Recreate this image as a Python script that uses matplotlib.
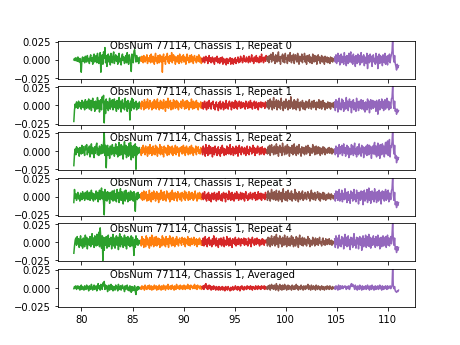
import matplotlib
matplotlib.use("Agg")
import matplotlib.pyplot as plt
import matplotlib.transforms as mtransforms
import numpy as np

obsnum = 77114
chassis = 1
panel_names = ["Repeat 0", "Repeat 1", "Repeat 2", "Repeat 3", "Repeat 4", "Averaged"]

# frequency range of each band (GHz) and the colour it is drawn in
band_lo = [79.25, 85.8, 91.8, 98.15, 104.8]
band_hi = [85.8, 91.8, 98.15, 104.8, 111.05]
band_colors = ["tab:green", "tab:orange", "tab:red", "tab:brown", "tab:purple"]

# baseline-subtracted spectra, units of 1e-3, one row per band
repeat0 = [
    [0, 2, -1, 3, 1, -2, 4, 0, -3, 2, -5, -17, 1, 4, -2, 3, -4, 5, 1, -3,
     6, -1, 2, -5, 4, 7, -2, 3, -6, 5, 8, -3, 2, 6, -4, 9, 1, -5, 4, 10,
     -17, 3, 7, -6, 11, 2, 17, -4, 6, -9, 4, 8, -3, 5, -7, 9, 2, -4, 6, 11,
     -5, 3, 7, -2, 5, -6, 4, 9, -3, 2, -7, 5, 8, -1, 4, -5, 3, 6, -4, 10,
     2, -6, 7, 3, -5, -16, 8, 2, -4, 12, 14, 5, -3, 6, -2, 3, -5, 2, 4, -1],
    [3, -2, 5, 0, -4, 6, 2, -3, 4, -1, 7, -5, 3, 1, -2, 6, -4, 8, 0, -3,
     5, 2, -6, 4, 9, -2, 3, -5, 6, 1, -4, 7, 2, -3, 5, -17, 4, 8, -2, 3,
     -6, 5, 1, 9, -3, 4, -5, 6, 2, -2, 10, -4, 3, 7, -1, 5, -6, 2, 4, -3,
     6, 1, -5, 8, -2, 3, -4, 5, 0, 7, -3, 4, 2, -6, 5, 8, -1, 3, -4, 6,
     1, -3, 7, -2, 4, -5, 3, 6, -1, 2, -4, 5, 3, -2, 7, -3, 4, 1, -5, 2],
    [2, -3, 1, 4, -4, 2, 5, -1, 3, -5, 1, 6, -2, 3, -4, 0, 4, -3, 2, -6,
     3, 1, -2, 5, -4, 2, -1, -5, 3, -3, 0, 4, -6, 2, -2, -4, 1, -7, 2, -3,
     -5, 1, -2, 3, -6, -1, 2, -4, -6, 1, -3, 3, -5, 0, -2, 4, -4, 1, -3, 5,
     -1, 2, -4, 3, 6, -2, 1, -3, 4, -1, 2, -4, 5, 0, -3, 3, 7, -2, 2, -5,
     4, 1, -2, 6, -3, 3, 0, -4, 5, 2, -3, 8, -1, 3, -4, 4, 1, -2, 6, 1],
    [3, -2, 5, -4, 6, 1, 8, -3, 4, 10, -1, 5, -5, 7, 2, -3, 6, 11, -2, 4,
     -6, 5, 2, 8, -3, 6, -4, 9, 1, 3, -5, 7, 4, -2, 10, 2, -4, 6, -1, 8,
     -5, 3, 7, 0, -3, 9, 2, -6, 5, 3, -2, 8, -4, 4, 1, 9, -3, 5, -6, 6,
     2, -2, 7, -4, 4, 1, -5, 8, 3, -3, 6, -2, 5, -6, 3, 7, -1, 4, -5, 2,
     6, -3, 4, 0, -6, 5, 2, -3, 4, -4, 3, 1, -5, 4, -2, 3, -3, 2, 0, -1],
    [4, -3, 7, -5, 2, 9, -2, 6, -7, 3, 8, -4, 5, 1, -6, 10, -2, 4, -8, 6,
     2, -5, 9, -3, 7, 11, -4, 5, -6, 8, -2, 4, -9, 6, 1, -5, 8, -3, 6, -7,
     3, 10, -4, 5, -2, 7, -8, 4, 2, -5, 9, -12, 3, 6, -4, 8, -2, 5, -9, 4,
     7, -3, 2, -6, 9, -4, 5, -12, 3, 8, -5, 6, -3, 4, -8, 7, 2, -4, 9, -6,
     3, 5, -7, 6, -2, 8, -4, 3, 7, 12, 30, 4, -3, 6, -5, -9, -14, -6, -11, -8],
]
repeat1 = [
    [-22, -6, 2, -3, 5, 1, -4, 6, 3, -2, 4, -5, 7, 0, -3, 5, -6, 8, 2, -4,
     6, -2, 9, -5, 3, 7, -7, 4, 10, -3, 5, -8, 6, 2, -5, 11, -4, 7, -9, 3,
     8, -6, 12, 4, 14, -24, 6, -11, 9, -4, 5, -7, 3, 10, -5, 6, -2, 8, -6, 4,
     9, -3, 5, -8, 7, 2, -5, 11, -3, 6, -9, 4, 8, -4, 3, -6, 10, -2, 5, -8,
     7, -4, 3, -20, 6, -7, 10, -3, 8, -5, 4, -2, 6, -6, 3, 1, -4, 5, -1, 2],
    [3, -5, 6, -1, 4, -6, 8, 2, -4, 5, -3, 9, 0, -5, 4, 7, -2, 3, -6, 5,
     1, -4, 8, -2, 6, -5, 3, 9, -3, 4, -6, 2, 7, -4, 5, 0, -5, 8, -2, 3,
     -8, 6, 2, -3, 10, -4, 5, -1, 7, -6, 3, 4, -5, 8, -1, 6, -4, 2, 7, -3,
     5, -6, 3, 1, -2, 6, -4, 4, 8, -1, 3, -5, 6, 2, -4, 7, -2, 5, -6, 3,
     4, -3, 9, 0, -5, 6, 2, -4, 5, -2, 7, -3, 4, -6, 3, 1, -2, 5, -4, 2],
    [-2, 4, -5, 1, 6, -3, 3, -6, 5, 0, -4, 7, -1, 3, -5, 4, 2, 6, -4, 1,
     -6, 3, 5, -2, 1, -7, 4, -3, 6, -5, 2, -2, 5, -6, 3, 0, -4, 7, -3, 2,
     -5, 4, 6, -1, 3, -6, 5, -2, 4, -4, 1, 7, -3, 5, -5, 2, -1, 6, 0, -4,
     5, -3, 2, 4, -2, 3, -5, 6, -1, 2, -4, 5, 1, -3, 7, -2, 4, -5, 3, 0,
     6, -4, 2, 5, -3, 3, -6, 4, 1, -2, 5, -3, 2, 4, -1, 3, -4, 5, 2, -1],
    [4, -3, 7, -5, 2, 9, -2, 6, -6, 3, 11, -4, 5, -1, 8, -6, 3, 7, -3, 5,
     -5, 10, 0, 4, -7, 6, 2, -4, 9, -2, 5, -6, 7, 1, -4, 12, -2, 5, -5, 3,
     8, -4, 6, -6, 2, 9, -3, 4, -7, 5, 3, -2, 7, -5, 4, 1, -6, 6, -3, 2,
     5, -4, 8, -1, 3, -5, 6, 2, -3, 7, -2, 4, -6, 5, 1, -3, 8, -4, 3, 6,
     -5, 2, 7, -2, 4, -6, 3, 1, -4, 5, 2, -3, 4, -5, 3, 0, -2, 4, -3, 1],
    [5, -7, 8, -2, 6, -9, 4, 10, -5, 3, -6, 9, -3, 7, -8, 4, 2, -5, 11, -4,
     6, -7, 3, 9, -2, 5, -10, 6, -3, 8, -6, 4, 1, -8, 10, -3, 5, -7, 6, 2,
     -4, 8, -5, 3, 7, -6, 4, -9, 5, 2, -6, 9, -3, 6, -10, 4, 8, -5, 3, 7,
     -4, 6, -2, 5, -8, 7, 3, -12, 4, 8, -6, 5, -3, 9, -4, 6, -7, 3, 8, -5,
     4, 10, -3, 6, -6, 5, 2, -4, 9, 11, 28, 3, -4, 6, -8, -5, -12, -5, -9, -7],
]
repeat2 = [
    [-20, -4, 3, -5, 6, -2, 4, 1, -7, 5, 2, -4, 8, -3, 6, 0, -6, 7, 2, 9,
     -5, 4, -2, 7, -8, 3, 10, -4, 5, 1, -9, 6, -3, 8, 11, -5, 4, -6, 7, 2,
     -4, 9, 5, -3, 11, 26, -6, 8, -23, 4, 8, -6, 4, -10, 7, 2, -5, 9, -3, 5,
     -7, 3, 10, -4, 6, -8, 4, 12, -6, 2, 9, -5, 7, -11, 5, 13, -4, 8, -9, 6,
     3, -7, 11, -5, 12, -12, 7, 4, -9, 8, -6, 10, -25, 6, -5, 4, -3, 5, -2, 1],
    [2, -6, 5, -3, 8, -1, 4, -5, 7, -2, 3, -7, 6, 1, -4, 9, -3, 5, -6, 2,
     7, -4, 3, -5, 8, -2, 6, -7, 4, 1, -3, 9, -5, 3, 6, -4, 2, -8, 7, -1,
     5, -3, 4, -6, 8, 2, -5, 6, -2, 3, -4, 7, -6, 4, 1, -3, 8, -5, 2, 6,
     -2, 4, -7, 3, 5, -1, 6, -4, 2, 8, -3, 5, -6, 2, 7, -2, 4, -5, 3, 6,
     -4, 1, 8, -3, 5, -6, 3, 2, -2, 7, -5, 4, 0, 6, -3, 2, -4, 5, 1, -2],
    [3, -5, 7, -2, 4, -7, 9, -3, 5, -6, 2, 8, -4, 6, -3, 4, -8, 5, 1, -5,
     7, -2, 3, -6, 4, 6, -4, 2, -7, 5, -3, 8, -2, 4, -6, 3, 1, -5, 7, -3,
     5, -4, 2, 9, -5, 3, -2, 6, -6, 4, 2, -4, 7, -3, 5, -7, 3, 8, -2, 4,
     -5, 6, -1, 3, -4, 5, 1, -6, 4, 7, -3, 2, -5, 6, 0, 4, -4, 3, 8, -2,
     5, -6, 2, 4, -3, 7, -1, 3, -5, 5, 2, -4, 6, -2, 3, -5, 4, 1, -3, 2],
    [2, -4, 6, -3, 8, -6, 4, 9, -2, 5, -5, 7, 1, -4, 10, -3, 6, -7, 4, 8,
     -2, 5, -6, 11, -1, 4, -5, 7, 3, -4, 9, -2, 6, -7, 5, 2, -3, 8, -5, 4,
     10, -3, 5, -6, 7, 1, -4, 9, -2, 3, -7, 6, 4, -3, 5, -5, 2, 7, -4, 3,
     8, -2, 5, -6, 4, 1, -3, 9, -1, 6, -5, 3, 7, -4, 2, 6, -3, 5, -6, 4,
     2, -4, 6, -2, 5, -5, 3, 1, -3, 4, -2, 5, -3, 2, 4, -4, 3, -2, 1, 0],
    [3, -5, 7, -3, 5, -8, 4, 9, -4, 6, -2, 8, -6, 3, 10, -3, 5, -7, 2, 8,
     -4, 6, -9, 4, 2, -5, 9, -3, 7, -6, 5, 11, -4, 3, -8, 6, 2, -5, 10, -3,
     4, -7, 8, -2, 6, -9, 5, 3, -4, 7, -6, 9, 2, -5, 8, -3, 6, -10, 4, 7,
     -4, 9, 12, -5, 7, -8, 5, 11, -6, 8, -10, 9, 4, -5, 10, -3, 7, -8, 6, 12,
     -4, 9, 14, -6, 11, 16, -8, 7, 5, 13, 30, 6, -4, 8, -10, -6, -16, -8, -12, -9],
]
repeat3 = [
    [-8, 10, -2, 4, -5, 3, 6, -3, 2, -6, 5, 1, -4, 7, -2, 4, -5, 6, 0, -3,
     8, -4, 3, 6, -5, 2, 9, -3, 5, -6, 4, 1, -4, 8, -2, 6, -7, 3, 9, -4,
     5, 12, -3, 7, -8, -25, 10, -5, 6, -6, 7, -3, 5, -9, 6, 2, -4, 8, -6, 3,
     9, -5, 4, -7, 10, -2, 6, -8, 3, 11, -5, 7, 2, -10, 4, 8, -6, 9, -3, 5,
     -7, 6, 2, -5, 8, -4, 6, 3, -6, 7, -5, -20, 4, 5, -4, 6, -2, 3, -1, 1],
    [4, -3, 6, -5, 2, 8, -4, 5, -2, 7, -6, 3, 1, -5, 9, -3, 4, -7, 6, 2,
     -4, 8, -2, 5, -6, 3, 7, -3, 4, -8, 5, 1, -4, 9, -2, 6, -5, 3, 7, -4,
     2, -6, 8, -1, 5, -3, 4, -7, 6, 2, -4, 9, -3, 5, -5, 3, 6, -2, 4, -6,
     7, -1, 3, -4, 5, 2, -6, 6, 0, 4, -3, 8, -5, 2, 6, -2, 3, -5, 7, 1,
     -4, 5, -2, 6, 3, -5, 4, -3, 8, -1, 2, -6, 5, 1, -3, 6, -2, 4, -4, 2],
    [-1, 5, -4, 3, 7, -3, 2, -6, 4, -2, 6, -5, 3, 1, -7, 5, -3, 4, -4, 6,
     -2, 3, -6, 5, 1, -4, 7, -3, 2, -5, 4, -6, 3, 6, -2, 4, -7, 5, -1, 3,
     -4, 8, -3, 5, -5, 2, 6, -4, 3, -6, 5, 1, -3, 7, -2, 4, -5, 3, -2, 6,
     -4, 2, 5, -3, 4, -6, 3, 7, -2, 1, -5, 4, 2, -3, 6, -1, 3, -4, 5, 0,
     -2, 6, -5, 3, 1, -4, 7, -2, 4, -3, 5, -5, 2, 4, -2, 3, -4, 6, -1, 2],
    [3, -5, 8, -2, 5, -6, 4, 10, -3, 6, -4, 7, 2, -5, 9, -3, 4, -6, 8, 1,
     -4, 6, -7, 5, 11, -3, 4, -5, 7, 2, -6, 9, -2, 5, -4, 3, 8, -6, 4, 1,
     -3, 10, -5, 6, -2, 4, -7, 7, 3, -4, 5, -2, 8, -5, 3, -3, 6, 1, -4, 5,
     7, -2, 4, -6, 3, 9, -3, 5, -4, 2, 6, -5, 3, -2, 7, 1, -4, 5, -6, 4,
     2, -3, 6, -4, 5, 0, -5, 3, 2, -3, 5, -2, 3, -4, 4, -1, 2, -3, 1, 2],
    [4, -6, 8, -2, 7, -5, 3, 10, -6, 4, -3, 9, -7, 5, 2, -4, 11, -3, 6, -8,
     4, 7, -5, 3, -9, 8, -2, 6, -6, 4, 10, -4, 3, -7, 9, -2, 5, -10, 6, 2,
     -5, 8, -3, 7, -11, 4, 9, -6, 5, -3, 10, -8, 6, 12, -5, 7, -9, 4, 8, -4,
     6, -7, 11, -3, 5, -8, 7, 2, -6, 9, -4, 6, -10, 5, 8, -3, 7, -6, 4, 10,
     -5, 7, -3, 9, -7, 5, 3, -4, 8, 11, 28, 2, -5, 6, -11, -7, -15, -7, -12, -8],
]
repeat4 = [
    [-15, -5, 3, 6, -4, 8, -2, 5, -7, 3, 9, -5, 4, -8, 6, 2, -6, 10, -3, 7,
     -9, 5, 2, -4, 8, -6, 4, 12, -3, 6, -7, 9, 3, -5, 11, -4, 8, 14, -6, 20,
     5, -8, 9, -25, 7, -11, 6, -4, 8, -8, 3, 10, -6, 5, -3, 7, -9, 4, 11, -5,
     6, -8, 3, 9, -4, 7, -10, 5, 12, -6, 8, -3, 6, -7, 4, 10, -5, 7, -9, 3,
     8, -4, 6, -6, 5, 9, -5, 7, -3, -18, 4, -7, 9, -3, 5, -4, 3, -2, 2, -1],
    [3, -5, 8, -3, 5, -7, 4, 2, -6, 9, -2, 6, -4, 3, -8, 7, 1, -5, 10, -3,
     4, -6, 7, 2, -4, 8, -5, 3, 6, -3, 5, -7, 4, 1, -5, 9, -2, 6, -4, 3,
     -6, 8, 2, -3, 5, -7, 4, 9, -2, 6, -5, 3, 7, -4, 2, -6, 5, -3, 8, -2,
     4, -5, 3, 6, -1, 2, -4, 7, 0, 5, -3, 6, -6, 4, 2, -2, 8, -4, 3, 5,
     -5, 2, 6, -3, 4, -1, 7, -4, 3, -2, 5, -6, 2, 4, -3, 6, -1, 3, -4, 1],
    [2, -4, 6, -5, 3, 8, -3, 4, -6, 5, -2, 7, -4, 3, 1, -6, 5, -3, 9, -2,
     4, -5, 6, -4, 2, -7, 5, 3, -3, 6, -5, 4, -2, 7, -6, 3, 1, -4, 8, -3,
     5, -5, 2, 6, -4, 3, -7, 5, -1, 4, -3, 7, -5, 2, 4, -3, 6, -2, 3, -5,
     5, -1, 4, -2, 6, -4, 2, 5, -3, 1, -5, 6, 3, -2, 4, -6, 2, 7, -1, 3,
     -4, 5, 0, -3, 6, 2, -2, 4, -5, 3, 1, -3, 5, -2, 4, -4, 2, 3, -1, 2],
    [4, -5, 7, -3, 6, -6, 3, 9, -4, 5, -2, 8, -5, 3, 11, -3, 6, -7, 4, 9,
     -2, 5, -6, 7, 2, -4, 10, -3, 5, -6, 8, 1, -4, 6, -5, 3, 9, -3, 7, -6,
     4, 2, -5, 8, -2, 6, -7, 4, 10, -3, 5, -4, 7, -5, 2, 6, -3, 4, -5, 3,
     8, -2, 5, -6, 3, 1, -4, 7, -2, 4, -5, 6, 2, -3, 5, -4, 3, 7, -2, 1,
     -5, 4, 6, -3, 2, -4, 5, 1, -3, 4, -2, 5, -3, 2, 3, -4, 2, -2, 1, 0],
    [5, -7, 9, -3, 6, -8, 4, 10, -5, 3, -6, 8, -2, 6, -9, 5, 11, -4, 7, -6,
     3, 9, -5, 4, -10, 7, -3, 6, -7, 5, 12, -4, 3, -8, 7, -2, 6, -9, 5, 8,
     -4, 6, -11, 3, 9, -6, 5, -3, 10, -7, 4, 8, -5, 11, -6, 7, -8, 3, 6, -4,
     9, -3, 5, -7, 8, 2, -5, 10, -4, 6, -9, 4, 7, -6, 3, 9, -5, 6, -3, 8,
     -7, 5, 10, -4, 6, -5, 3, 8, -2, 11, 29, 3, -4, 6, -10, -6, -14, -6, -11, -7],
]
averaged = [
    [-1, 2, 0, 3, -2, 1, 3, -1, 2, -3, 1, 4, -2, 2, 0, -3, 3, 1, -2, 4,
     -1, 2, -4, 3, 1, -2, 5, 0, -3, 2, 4, -2, 1, 3, -4, 2, 6, -1, 3, -3,
     5, 1, -2, 7, 3, 9, -2, 4, -1, 3, -5, 2, 4, -3, 1, 5, -2, 3, -4, 2,
     1, -3, 4, -1, 2, -4, 5, 0, -2, 3, -3, 2, 4, -1, 1, -5, 3, -2, 2, 4,
     -3, 1, -4, 3, -2, -6, 2, -4, 1, -3, 3, -5, -9, 1, -3, 2, -2, 1, 0, -1],
    [1, -2, 3, -1, 0, 2, -3, 4, -1, 1, -2, 3, 2, -1, 4, -2, 1, 3, -3, 2,
     0, -2, 4, 1, -1, 3, -3, 2, 1, -2, 4, -1, 2, -3, 3, 1, -2, 4, 0, 2,
     -3, 3, 1, -1, 5, -2, 2, 0, 3, -2, 1, 4, -1, 2, -3, 3, 1, -2, 5, 0,
     2, -1, 3, -2, 4, 1, -1, 3, -2, 2, 4, 0, -2, 3, 1, -1, 5, 2, -1, 3,
     -2, 4, 1, 2, -1, 3, 0, 5, -1, 2, 3, -2, 4, 1, 2, -1, 3, 2, -2, 1],
    [2, -1, 3, -2, 4, 1, 6, -1, 3, -2, 2, 4, -1, 3, -3, 1, 2, -2, 3, -1,
     1, -3, 2, -2, 1, -3, 2, -1, -3, 1, -2, 2, -3, 1, -1, -4, 2, -2, 1, -3,
     2, 0, -2, -4, 1, -3, -1, 2, -3, 0, -2, 3, -1, 1, -3, 2, -2, 1, -4, 2,
     -1, 3, -2, 1, -3, 2, -1, 1, -2, 3, -1, 2, 1, -2, 3, -1, 2, -3, 2, 0,
     1, -2, 3, -1, 2, -2, 3, 1, -1, 2, -2, 3, 0, 2, -1, 3, -2, 2, 1, -1],
    [1, -2, 3, -1, 4, -3, 2, 5, -1, 3, -2, 4, 1, -3, 6, -1, 3, -4, 2, 5,
     -2, 3, -3, 4, 1, -2, 5, -1, 3, -3, 2, 4, -2, 3, -1, 2, -3, 4, 1, -2,
     3, -2, 2, 5, -1, 3, -3, 2, 1, -2, 4, -1, 2, -3, 3, 1, -2, 3, -1, 2,
     5, -2, 3, 0, -3, 4, 1, -2, 3, -1, 2, -3, 4, 1, -2, 3, -1, 2, -3, 1,
     3, -2, 2, 0, -3, 2, 1, -2, 3, -1, 2, -2, 3, -1, 1, -2, 2, 0, -1, 1],
    [1, -2, 3, -1, 2, -3, 4, 1, -2, 3, -1, 2, 3, -1, 2, 1, 3, 1, -2, 2,
     2, -1, 3, -2, 1, 4, 6, 2, 5, 3, 1, -2, 4, -1, 2, -3, 3, 1, -2, 4,
     -1, 2, -3, 3, 1, -2, 2, -1, 3, -2, 1, 4, -1, 2, -3, 3, 1, -2, 4, -1,
     2, -3, 1, 3, -2, 2, -1, 3, -2, 1, 4, -1, 2, -3, 3, 1, -2, 2, -1, 3,
     1, -2, 3, -1, 2, 0, 3, -1, 2, 3, 30, 1, -1, 2, -4, -5, -6, -4, -5, -3],
]
panels = [repeat0, repeat1, repeat2, repeat3, repeat4, averaged]

fig, axes = plt.subplots(6, 1, sharex=True, figsize=(6.4, 4.8), dpi=72)

for ax, name, spectra in zip(axes, panel_names, panels):
    for lo, hi, color, vals in zip(band_lo, band_hi, band_colors, spectra):
        freq = np.linspace(lo, hi, len(vals))
        ax.plot(freq, np.array(vals) * 1e-3, color=color)
    ax.set_ylim(-0.0262, 0.0262)
    ax.set_yticks([-0.025, 0.0, 0.025])
    # label sits at the top edge, anchored to a frequency on the x axis
    trans = mtransforms.blended_transform_factory(ax.transData, ax.transAxes)
    ax.text(82.75, 1.0, "ObsNum %d, Chassis %d, %s" % (obsnum, chassis, name),
            transform=trans, va="top", ha="left")

fig.savefig("out.png", dpi=72)
